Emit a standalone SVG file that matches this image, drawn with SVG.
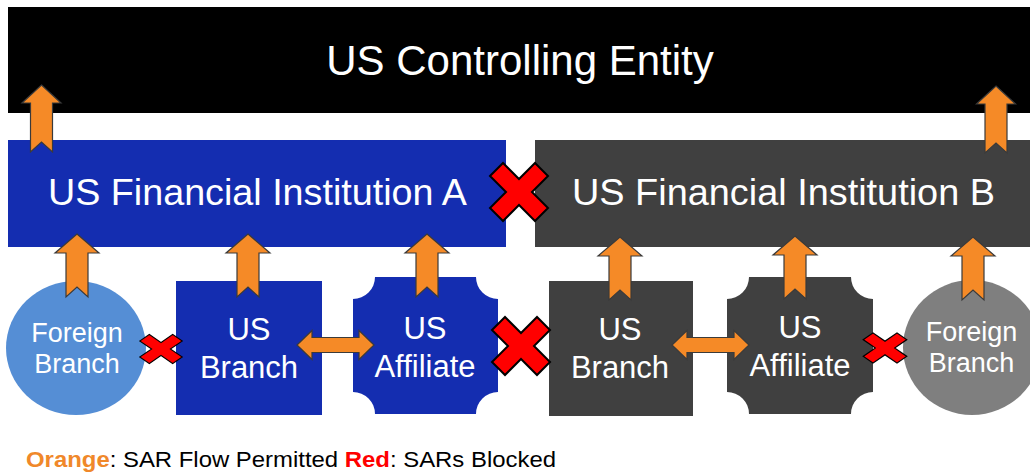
<svg xmlns="http://www.w3.org/2000/svg" width="1030" height="474" viewBox="0 0 1030 474">
<defs>
<style>
text{font-family:"Liberation Sans",Arial,sans-serif;fill:#fff;text-anchor:middle}
.arr{fill:#F58A27;stroke:#3a3a3a;stroke-width:1.2;stroke-linejoin:miter}
.x{fill:#FF0000;stroke:#000;stroke-width:2;stroke-linejoin:miter}
.blue{fill:#142DB0}
.gray{fill:#404040}
.lbl{font-size:31px}
.fb{font-size:27px}
</style>
<path id="upTop" d="M0,0 L19.5,18 L11,18 L11,67 L0,57 L-11,67 L-11,18 L-19.5,18 Z"/>
<path id="upLow" d="M0,0 L22,19 L11,19 L11,63 L0,53 L-11,63 L-11,19 L-22,19 Z"/>
<path id="dbl" d="M0,0 L15,-14.5 L15,-7.5 L62,-7.5 L62,-14.5 L77,0 L62,14.5 L62,7.5 L15,7.5 L15,14.5 Z"/>
<path id="xs" d="M-29,-16 L-16,-29 L0,-13 L16,-29 L29,-16 L13,0 L29,16 L16,29 L0,13 L-16,29 L-29,16 L-13,0 Z"/>
</defs>

<g id="us-controlling-entity">
<rect x="8" y="7" width="1030" height="106" fill="#000"/>
<text x="520" y="75" font-size="42">US Controlling Entity</text>
</g>

<g id="institution-a">
<rect class="blue" x="8" y="140" width="498" height="107"/>
<text x="257.5" y="205" font-size="36" textLength="419" lengthAdjust="spacingAndGlyphs">US Financial Institution A</text>
</g>

<g id="institution-b">
<rect class="gray" x="535" y="140" width="500" height="107"/>
<text x="783.5" y="205" font-size="36" textLength="423" lengthAdjust="spacingAndGlyphs">US Financial Institution B</text>
</g>

<g id="foreign-branch-a">
<ellipse cx="76" cy="348" rx="70" ry="67" fill="#558ED5"/>
<text class="fb" x="77" y="342">Foreign</text>
<text class="fb" x="77" y="373">Branch</text>
</g>

<g id="us-branch-a">
<rect class="blue" x="176" y="281" width="146" height="134"/>
<text class="lbl" x="249" y="340">US</text>
<text class="lbl" x="249" y="378">Branch</text>
</g>

<g id="us-affiliate-a">
<path class="blue" d="M375,277 H476 A22 22 0 0 0 498,299 V392 A22 22 0 0 0 476,414 H375 A22 22 0 0 0 353,392 V299 A22 22 0 0 0 375,277 Z"/>
<text class="lbl" x="425" y="339">US</text>
<text class="lbl" x="425" y="377">Affiliate</text>
</g>

<g id="us-branch-b">
<rect class="gray" x="549" y="281" width="144" height="135"/>
<text class="lbl" x="620" y="340">US</text>
<text class="lbl" x="620" y="378">Branch</text>
</g>

<g id="us-affiliate-b">
<path class="gray" d="M749,277 H851 A22 22 0 0 0 873,299 V392 A22 22 0 0 0 851,414 H749 A22 22 0 0 0 727,392 V299 A22 22 0 0 0 749,277 Z"/>
<text class="lbl" x="800" y="338">US</text>
<text class="lbl" x="800" y="376">Affiliate</text>
</g>

<g id="foreign-branch-b">
<ellipse cx="972" cy="347.5" rx="69" ry="67.5" fill="#7F7F7F"/>
<text class="fb" x="971.5" y="341">Foreign</text>
<text class="fb" x="971.5" y="372">Branch</text>
</g>

<g id="connectors">
<use href="#upTop" class="arr" x="41.5" y="85"/>
<use href="#upTop" class="arr" x="996" y="86"/>
<use href="#upLow" class="arr" x="77" y="234"/>
<use href="#upLow" class="arr" x="248" y="234"/>
<use href="#upLow" class="arr" x="427" y="234"/>
<use href="#upLow" class="arr" x="620" y="237"/>
<use href="#upLow" class="arr" x="795" y="236"/>
<use href="#upLow" class="arr" x="973" y="237"/>
<use href="#dbl" class="arr" x="297" y="345"/>
<use href="#dbl" class="arr" x="672" y="345"/>
<use href="#xs" class="x" transform="translate(519,192)"/>
<use href="#xs" class="x" transform="translate(521,346)"/>
<use href="#xs" class="x" transform="translate(161,349) scale(0.73,0.5)"/>
<use href="#xs" class="x" transform="translate(885,348) scale(0.75,0.52)"/>
</g>

<g id="legend">
<text x="26" y="467" font-size="22" textLength="530" lengthAdjust="spacingAndGlyphs" style="text-anchor:start;fill:#000"><tspan font-weight="bold" fill="#F0882A">Orange</tspan>: SAR Flow Permitted <tspan font-weight="bold" fill="#FF0000">Red</tspan>: SARs Blocked</text>
</g>
</svg>
